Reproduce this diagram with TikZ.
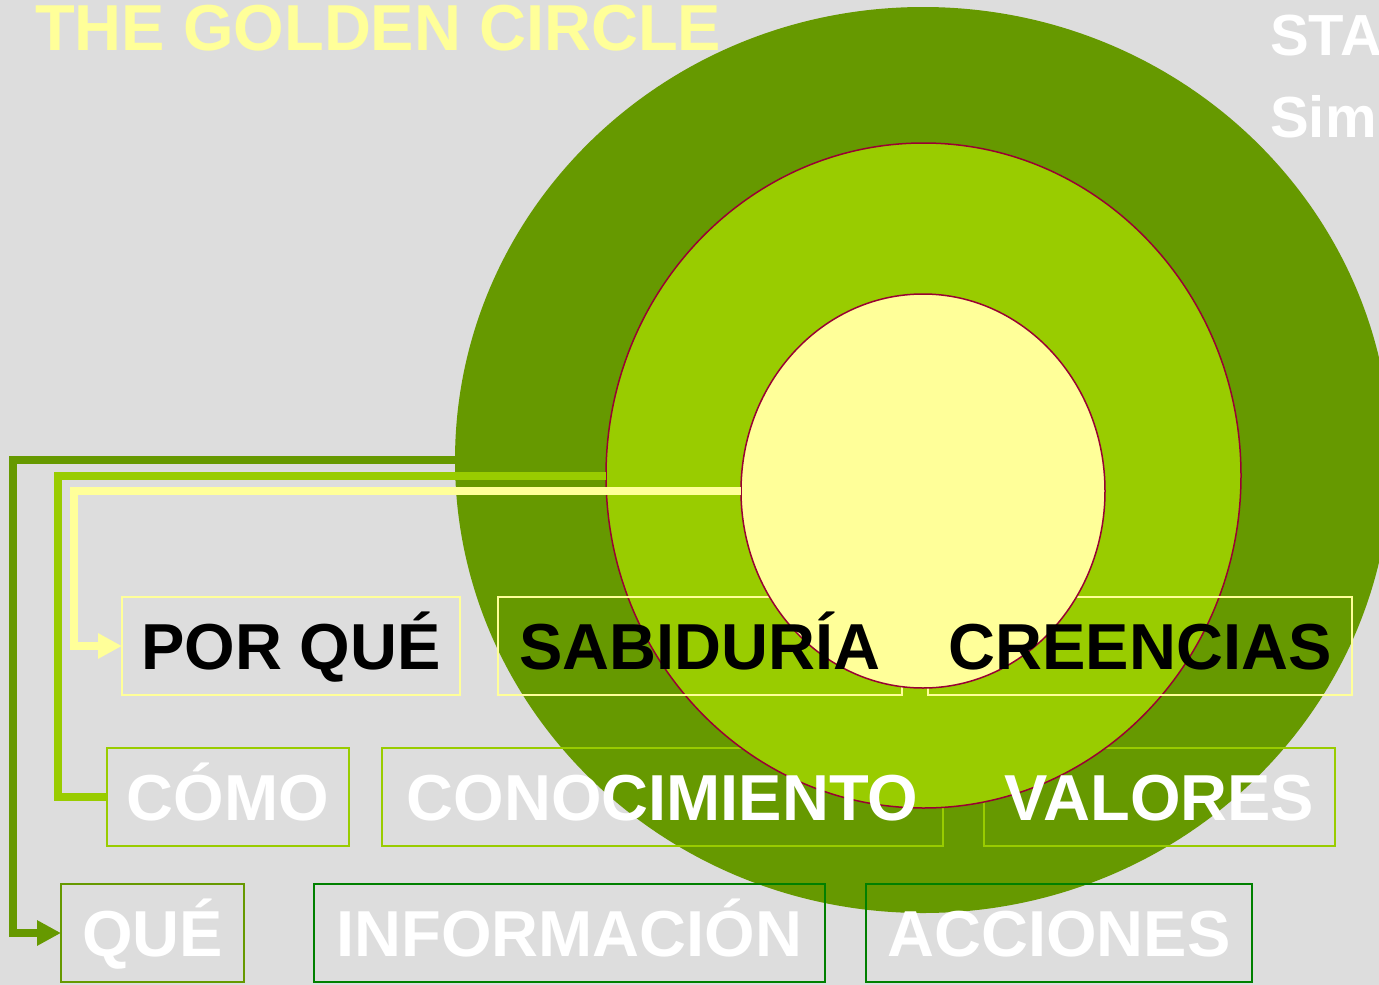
\documentclass[tikz,border=0pt]{standalone}
\usepackage{fontspec}
\setmainfont{Liberation Sans}
\usetikzlibrary{positioning,shapes.geometric,arrows.meta}

\definecolor{bggray}{HTML}{DDDDDD}
\definecolor{darkleaf}{HTML}{669900}
\definecolor{lightleaf}{HTML}{99CC00}
\definecolor{paleyellow}{HTML}{FFFF99}
\definecolor{deepgreen}{HTML}{008000}
\definecolor{wine}{HTML}{990033}

\pgfdeclarelayer{bg}
\pgfdeclarelayer{ring}
\pgfdeclarelayer{core}
\pgfsetlayers{bg,ring,core,main}

\begin{document}
\begin{tikzpicture}[x=1pt,y=-1pt,
    word/.style={font=\bfseries\fontsize{65}{65}\selectfont, inner sep=0pt, outer sep=0pt,
                 text height=46.5pt, text depth=0pt, minimum height=98pt},
    disc/.style={ellipse, inner sep=0pt, outer sep=0pt},
    frame/.style={line width=2pt},
    link/.style={line width=8pt},
    pointer/.style={-{Triangle[length=24pt,width=24pt]}}]
          \useasboundingbox (0,0) rectangle (1379,985);

          % words in three rows
          \node[word, minimum width=338pt] (porque) at (291,646) {POR QUÉ};
          \node[word, minimum width=404pt] (sabiduria) [right=38pt of porque] {SABIDURÍA};
          \node[word, minimum width=424pt] (creencias) [right=26pt of sabiduria] {CREENCIAS};
          \node[word, text=white, minimum width=242pt] (como) at (228,797) {CÓMO};
          \node[word, text=white, minimum width=561pt] (conocimiento) [right=33pt of como] {CONOCIMIENTO};
          \node[word, text=white, minimum width=351pt] (valores) [right=41pt of conocimiento] {VALORES};
          \node[word, text=white, minimum width=183pt] (que) at (152.5,933) {QUÉ};
          \node[word, text=white, minimum width=511pt] (informacion) [right=70pt of que] {INFORMACIÓN};
          \node[word, text=white, minimum width=386pt] (acciones) [right=41pt of informacion] {ACCIONES};

          \node[anchor=base west, inner sep=0pt, text=paleyellow,
                font=\bfseries\fontsize{65}{65}\selectfont] (title) at (35,50) {THE GOLDEN CIRCLE};
          \node[anchor=base west, inner sep=0pt, text=white,
                font=\bfseries\fontsize{58}{58}\selectfont] (authora) at (1270,55) {STA};
          \node[anchor=base west, inner sep=0pt, text=white,
                font=\bfseries\fontsize{58}{58}\selectfont] (authorb) at (1270,137) {Sim};

          \begin{pgfonlayer}{bg}
          \fill[bggray] (0,0) rectangle (1379,985);
          \node[disc, fill=darkleaf, minimum width=936pt, minimum height=906pt] (outer) at (923,460) {};
          \draw[frame, darkleaf] (que.south west) rectangle (que.north east);
          \foreach \b in {informacion,acciones}
            \draw[frame, deepgreen] (\b.south west) rectangle (\b.north east);
          \foreach \b in {como,conocimiento,valores}
            \draw[frame, lightleaf] (\b.south west) rectangle (\b.north east);
          \end{pgfonlayer}

          \begin{pgfonlayer}{ring}
          \node[disc, fill=lightleaf, draw=wine, line width=1.5pt,
                minimum width=635pt, minimum height=665pt] (middle) at (923.5,475.5) {};
          \foreach \b in {porque,sabiduria,creencias}
            \draw[frame, paleyellow] (\b.south west) rectangle (\b.north east);
          \end{pgfonlayer}

          \begin{pgfonlayer}{core}
          \node[disc, fill=paleyellow, draw=wine, line width=1.5pt,
                minimum width=364pt, minimum height=394pt] (inner) at (923,491) {};
          \end{pgfonlayer}

          \draw[link, paleyellow, pointer] (inner.west) -| ([xshift=-48pt]porque.west) -- (porque.west);
          \draw[link, lightleaf] (middle.west) -| ([xshift=-49pt]como.west) -- (como.west);
          \draw[link, darkleaf, pointer] (outer.west) -| ([xshift=-48pt]que.west) -- (que.west);
        \end{tikzpicture}
\end{document}
